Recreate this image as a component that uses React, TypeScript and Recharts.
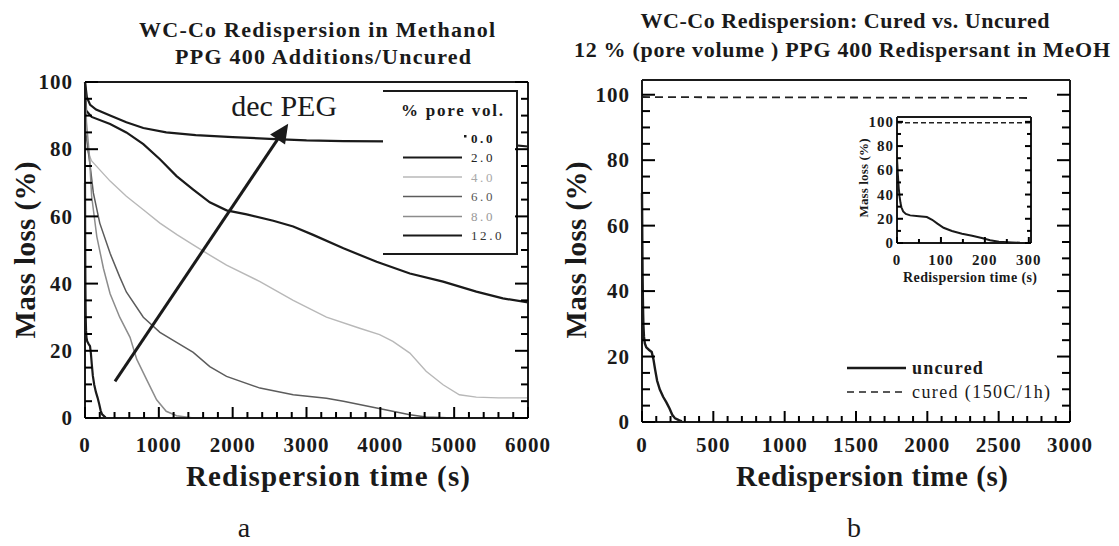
import { Line, LineChart, ReferenceLine, XAxis, YAxis } from 'recharts';

const SERIF = "'Liberation Serif', 'Times New Roman', serif";
const INK = '#1a1a1a';

// Panel a: PPG 400 additions, uncured (time in s, mass loss in %), one pair per pore-volume fraction
const PV0_TIME = [0, 25, 70, 150, 340, 560, 790, 1100, 1500, 2000, 2500, 3000, 3500, 4100, 4700, 5300, 5800, 6000];
const PV0_LOSS = [100, 95.5, 93.2, 91.8, 90, 88, 86.3, 85, 84.2, 83.6, 83.1, 82.6, 82.4, 82.3, 82.1, 81.7, 81.2, 80.8];

const PV2_TIME = [0, 15, 90, 340, 560, 790, 1015, 1240, 1466, 1690, 1917, 2190, 2550, 2820, 3090, 3500, 3950, 4400, 4850, 5300, 5660, 6000];
const PV2_LOSS = [100, 91.5, 89.6, 87.5, 85, 81.5, 77, 72, 68, 64.2, 61.8, 60.6, 58.7, 57, 54.5, 50.5, 46.5, 43, 40.6, 37.6, 35.6, 34.4];

const PV4_TIME = [0, 5, 90, 340, 560, 790, 1015, 1250, 1466, 1690, 1917, 2370, 2820, 3270, 3720, 3990, 4170, 4400, 4620, 4850, 5070, 5300, 5600, 6000];
const PV4_LOSS = [100, 81, 76.5, 70.5, 66, 62, 58, 54.5, 51.5, 48.5, 45.5, 40.6, 35, 30, 26.7, 24.8, 22.8, 19.3, 13.9, 9.9, 6.9, 6.2, 6, 6];

const PV6_TIME = [0, 10, 70, 113, 200, 340, 470, 560, 790, 1015, 1240, 1466, 1690, 1917, 2370, 2820, 3270, 3500, 3950, 4400, 4620, 5000];
const PV6_LOSS = [100, 85, 75, 67, 58, 49, 42, 37.5, 30, 25.5, 22.5, 19.5, 15.3, 12.4, 8.9, 6.9, 5.9, 5, 3, 1, 0.3, 0];

const PV8_TIME = [0, 20, 60, 90, 160, 250, 340, 470, 610, 700, 835, 970, 1100, 1240, 1470];
const PV8_LOSS = [100, 88, 78, 66, 54, 44.5, 37, 30, 24, 17.5, 11.4, 5.4, 2, 0.7, 0];

// 12 % pore volume, uncured (also the 12.0 curve of panel a) and cured at 150C for 1 h
const UNCURED_TIME = [0, 2, 4, 6, 8, 10, 14, 20, 30, 50, 68, 80, 92, 106, 125, 148, 171, 193, 212, 232, 262, 280];
const UNCURED_LOSS = [70, 56, 45, 38, 33, 29.5, 26, 24, 22.8, 22, 21.4, 19.2, 16, 12.6, 9.9, 7.7, 6, 4.1, 2.2, 1.1, 0.5, 0.2];
const CURED_TIME = [0, 600, 1200, 1800, 2400, 2715];
const CURED_LOSS = [99.3, 99.2, 99.2, 99.1, 99.1, 99.0];

const PV_LABELS = ['0.0', '2.0', '4.0', '6.0', '8.0', '12.0'];

// labelled (major) tick values
const A_X_LABELS = [0, 1000, 2000, 3000, 4000, 5000, 6000];
const B_X_LABELS = [0, 500, 1000, 1500, 2000, 2500, 3000];
const Y_LABELS = [0, 20, 40, 60, 80, 100];
const INSET_X_LABELS = [0, 100, 200, 300];

const range = (from: number, to: number, step: number) =>
  Array.from({ length: Math.floor((to - from) / step) + 1 }, (_, i) => from + i * step);

const pts = (time: number[], loss: number[]) => time.map((t, i) => ({ t, loss: loss[i] }));

const A_SERIES = [
  { name: PV_LABELS[0], data: pts(PV0_TIME, PV0_LOSS), color: INK, width: 2.2 },
  { name: PV_LABELS[1], data: pts(PV2_TIME, PV2_LOSS), color: INK, width: 2.2 },
  { name: PV_LABELS[2], data: pts(PV4_TIME, PV4_LOSS), color: '#b8b8b8', width: 1.4 },
  { name: PV_LABELS[3], data: pts(PV6_TIME, PV6_LOSS), color: '#5c5c5c', width: 1.5 },
  { name: PV_LABELS[4], data: pts(PV8_TIME, PV8_LOSS), color: '#8c8c8c', width: 1.5 },
  { name: PV_LABELS[5], data: pts(UNCURED_TIME, UNCURED_LOSS), color: INK, width: 2.2 },
];
const LEGEND_TEXT = [INK, '#222', '#a8a8a8', '#555', '#999', '#333'];

const uncured = pts(UNCURED_TIME, UNCURED_LOSS);
const cured = pts(CURED_TIME, CURED_LOSS);

// plot boxes (page pixels) that follow from the chart sizes and margins below
const A_BOX = { left: 85, right: 528, top: 82, bottom: 418, x: [0, 6000], y: [0, 100] };
const B_BOX = { left: 642, right: 1070, top: 80, bottom: 422, x: [0, 3000], y: [0, 104.5] };
const INSET_BOX = { left: 897, right: 1031, top: 117, bottom: 243, x: [0, 305], y: [0, 104] };

// tick labels only; the inward tick marks are drawn by FrameTicks
function tickLabel(side: 'left' | 'bottom', fontSize: number, gap: number) {
  return function Label(props: any) {
    const { x, y, payload } = props;
    const txt = { fontFamily: SERIF, fontWeight: 700, fontSize, fill: INK, letterSpacing: 1 };
    if (side === 'left') {
      return (
        <text x={x - gap} y={y} dy="0.34em" textAnchor="end" {...txt}>
          {payload.value}
        </text>
      );
    }
    return (
      <text x={x} y={y + gap} textAnchor="middle" {...txt}>
        {payload.value}
      </text>
    );
  };
}

function DecArrow(props: any) {
  const { x1, y1, x2, y2 } = props;
  const ang = Math.atan2(y2 - y1, x2 - x1);
  const headLen = 19;
  const halfW = 9;
  const bx = x2 - headLen * Math.cos(ang);
  const by = y2 - headLen * Math.sin(ang);
  const px = -Math.sin(ang) * halfW;
  const py = Math.cos(ang) * halfW;
  return (
    <g>
      <line x1={x1} y1={y1} x2={bx} y2={by} stroke={INK} strokeWidth={3} />
      <polygon points={`${x2},${y2} ${bx + px},${by + py} ${bx - px},${by - py}`} fill={INK} />
      <text x={x2 - 4} y={y2 - 8} textAnchor="middle" fontFamily={SERIF} fontSize={30} fill={INK}>
        dec PEG
      </text>
    </g>
  );
}

const frame = { stroke: INK, strokeWidth: 2 };
const bare = { tickSize: 0, tickMargin: 0, tickLine: false, interval: 0 as const };

function PanelA() {
  return (
    <LineChart width={560} height={546} margin={{ top: 82, right: 31, bottom: 98, left: 25 }}>
      <XAxis type="number" dataKey="t" domain={A_BOX.x} ticks={A_X_LABELS} height={30} axisLine={frame} tick={tickLabel('bottom', 21, 34)} {...bare} />
      <YAxis type="number" domain={A_BOX.y} ticks={Y_LABELS} width={60} axisLine={frame} tick={tickLabel('left', 21, 12)} {...bare} />
      <YAxis yAxisId="r" orientation="right" type="number" domain={A_BOX.y} allowDataOverflow width={1} axisLine={frame} tick={false} {...bare} />
      <ReferenceLine y={100} stroke={INK} strokeWidth={2} />
      {A_SERIES.map((s) => (
        <Line key={s.name} data={s.data} dataKey="loss" type="linear" stroke={s.color} strokeWidth={s.width} dot={false} isAnimationActive={false} />
      ))}
      <ReferenceLine
        segment={[
          { x: 406, y: 10.9 },
          { x: 2752, y: 87.6 },
        ]}
        shape={DecArrow}
      />
    </LineChart>
  );
}

function PanelB() {
  return (
    <LineChart width={559} height={546} margin={{ top: 80, right: 48, bottom: 94, left: 22 }}>
      <XAxis type="number" dataKey="t" domain={B_BOX.x} ticks={B_X_LABELS} height={30} axisLine={frame} tick={tickLabel('bottom', 21, 30)} {...bare} />
      <YAxis type="number" domain={B_BOX.y} allowDataOverflow ticks={Y_LABELS} width={60} axisLine={frame} tick={tickLabel('left', 21, 12)} {...bare} />
      <YAxis yAxisId="r" orientation="right" type="number" domain={B_BOX.y} allowDataOverflow width={1} axisLine={frame} tick={false} {...bare} />
      <ReferenceLine y={104.5} stroke={INK} strokeWidth={2} />
      <Line data={cured} dataKey="loss" stroke="#222" strokeWidth={1.8} strokeDasharray="8 5" dot={false} isAnimationActive={false} />
      <Line data={uncured} dataKey="loss" stroke={INK} strokeWidth={2.4} dot={false} isAnimationActive={false} />
    </LineChart>
  );
}

function Inset() {
  return (
    <LineChart width={200} height={200} margin={{ top: 17, right: 18, bottom: 37, left: 17 }}>
      <XAxis type="number" dataKey="t" domain={INSET_BOX.x} allowDataOverflow ticks={INSET_X_LABELS} height={20} axisLine={frame} tick={tickLabel('bottom', 15, 22)} {...bare} />
      <YAxis type="number" domain={INSET_BOX.y} allowDataOverflow ticks={Y_LABELS} width={30} axisLine={frame} tick={tickLabel('left', 15, 3)} {...bare} />
      <YAxis yAxisId="r" orientation="right" type="number" domain={INSET_BOX.y} allowDataOverflow width={1} axisLine={frame} tick={false} {...bare} />
      <ReferenceLine y={104} stroke={INK} strokeWidth={2} />
      <Line data={cured} dataKey="loss" stroke="#222" strokeWidth={1.5} strokeDasharray="5 3" dot={false} isAnimationActive={false} />
      <Line data={uncured} dataKey="loss" stroke={INK} strokeWidth={2} dot={false} isAnimationActive={false} />
    </LineChart>
  );
}

type Box = typeof A_BOX;
type TickLens = { xMaj: number; xMin: number; yMaj: number; yMin: number };

// inward tick marks on the left, right and bottom frame of a plot box
function FrameTicks({ box, xTicks, xMajors, yTicks, yMajors, len }: { box: Box; xTicks: number[]; xMajors: number[]; yTicks: number[]; yMajors: number[]; len: TickLens }) {
  const sx = (v: number) => box.left + ((v - box.x[0]) / (box.x[1] - box.x[0])) * (box.right - box.left);
  const sy = (v: number) => box.bottom - ((v - box.y[0]) / (box.y[1] - box.y[0])) * (box.bottom - box.top);
  return (
    <g stroke="#000" strokeWidth={2}>
      {yTicks.map((v) => {
        const y = sy(v);
        const l = yMajors.includes(v) ? len.yMaj : len.yMin;
        return (
          <g key={`y${v}`}>
            <line x1={box.left} y1={y} x2={box.left + l} y2={y} />
            <line x1={box.right - l} y1={y} x2={box.right} y2={y} />
          </g>
        );
      })}
      {xTicks.map((v) => {
        const x = sx(v);
        const l = xMajors.includes(v) ? len.xMaj : len.xMin;
        return <line key={`x${v}`} x1={x} y1={box.bottom} x2={x} y2={box.bottom - l} />;
      })}
    </g>
  );
}

const bold = { fontFamily: SERIF, fontWeight: 700, fill: INK };
const plain = { fontFamily: SERIF, fill: INK };
const LEGEND_ROWS = [138, 157.5, 177, 196.5, 216.5, 235.5];

function Annotations() {
  return (
    <svg width={1119} height={546} style={{ position: 'absolute', left: 0, top: 0, pointerEvents: 'none' }}>
      {/* titles */}
      <text x={317} y={37} textAnchor="middle" fontSize={22} textLength={356} lengthAdjust="spacing" {...bold}>
        WC-Co Redispersion in Methanol
      </text>
      <text x={323} y={64} textAnchor="middle" fontSize={22} textLength={296} lengthAdjust="spacing" {...bold}>
        PPG 400 Additions/Uncured
      </text>
      <text x={845} y={28} textAnchor="middle" fontSize={22} textLength={409} lengthAdjust="spacing" {...bold}>
        WC-Co Redispersion: Cured vs. Uncured
      </text>
      <text x={842} y={57} textAnchor="middle" fontSize={22} textLength={536} lengthAdjust="spacing" {...bold}>
        12 % (pore volume ) PPG 400 Redispersant in MeOH
      </text>

      {/* axis titles */}
      <text x={328} y={486} textAnchor="middle" fontSize={29} textLength={284} lengthAdjust="spacing" {...bold}>
        Redispersion time (s)
      </text>
      <text x={872} y={486} textAnchor="middle" fontSize={29} textLength={272} lengthAdjust="spacing" {...bold}>
        Redispersion time (s)
      </text>
      <text transform="translate(35,250) rotate(-90)" textAnchor="middle" fontSize={29} textLength={177} lengthAdjust="spacing" {...bold}>
        Mass loss (%)
      </text>
      <text transform="translate(586,250) rotate(-90)" textAnchor="middle" fontSize={29} textLength={177} lengthAdjust="spacing" {...bold}>
        Mass loss (%)
      </text>

      {/* inset axis titles */}
      <text x={970} y={282} textAnchor="middle" fontSize={14} textLength={134} lengthAdjust="spacing" {...bold}>
        Redispersion time (s)
      </text>
      <text transform="translate(867.5,178) rotate(-90)" textAnchor="middle" fontSize={13} textLength={79} lengthAdjust="spacing" {...bold}>
        Mass loss (%)
      </text>

      {/* panel a legend box */}
      <rect x={383} y={91} width={134} height={163} fill="#fff" />
      <line x1={383} y1={91} x2={518} y2={91} stroke={INK} strokeWidth={2} />
      <line x1={517} y1={91} x2={517} y2={254} stroke={INK} strokeWidth={2} />
      <line x1={383} y1={254} x2={518} y2={254} stroke={INK} strokeWidth={2} />
      <text x={452} y={116} textAnchor="middle" fontSize={17} textLength={102} lengthAdjust="spacing" {...bold}>
        % pore vol.
      </text>
      {PV_LABELS.map((lab, i) => {
        const s = A_SERIES[i];
        const y = LEGEND_ROWS[i];
        return (
          <g key={lab}>
            {i === 0 ? (
              <rect x={464} y={y - 3} width={2.5} height={2.5} fill={INK} />
            ) : (
              <line x1={403} y1={y} x2={462} y2={y} stroke={s.color} strokeWidth={s.width} />
            )}
            <text x={471} y={y + 4.5} fontSize={13} letterSpacing={2.6} fontWeight={i === 0 ? 700 : 400} fontFamily={SERIF} fill={LEGEND_TEXT[i]}>
              {lab}
            </text>
          </g>
        );
      })}

      {/* inward frame ticks */}
      <FrameTicks box={A_BOX} xTicks={range(0, 6000, 200)} xMajors={A_X_LABELS} yTicks={range(0, 100, 5)} yMajors={Y_LABELS} len={{ xMaj: 11, xMin: 6, yMaj: 13, yMin: 7 }} />
      <FrameTicks box={B_BOX} xTicks={range(0, 3000, 100)} xMajors={B_X_LABELS} yTicks={range(0, 100, 5)} yMajors={Y_LABELS} len={{ xMaj: 11, xMin: 6, yMaj: 13, yMin: 8 }} />
      <FrameTicks box={INSET_BOX} xTicks={range(0, 300, 50)} xMajors={INSET_X_LABELS} yTicks={range(0, 100, 10)} yMajors={Y_LABELS} len={{ xMaj: 6, xMin: 4, yMaj: 6, yMin: 4 }} />

      {/* panel b legend */}
      <line x1={847} y1={368} x2={906} y2={368} stroke={INK} strokeWidth={2.5} />
      <text x={912} y={374} fontSize={18} letterSpacing={1.2} {...bold}>
        uncured
      </text>
      <line x1={847} y1={392} x2={906} y2={392} stroke="#222" strokeWidth={1.6} strokeDasharray="7 5" />
      <text x={912} y={398} fontSize={18} letterSpacing={1.4} {...plain}>
        cured (150C/1h)
      </text>

      {/* panel letters */}
      <text x={244} y={537} textAnchor="middle" fontSize={28} {...plain}>
        a
      </text>
      <text x={854} y={537} textAnchor="middle" fontSize={28} {...plain}>
        b
      </text>
    </svg>
  );
}

export default function App() {
  return (
    <div style={{ position: 'absolute', left: 0, top: 0, width: 1119, height: 546, background: '#fff', overflow: 'hidden' }}>
      <div style={{ position: 'absolute', left: 0, top: 0 }}>
        <PanelA />
      </div>
      <div style={{ position: 'absolute', left: 560, top: 0 }}>
        <PanelB />
      </div>
      <div style={{ position: 'absolute', left: 850, top: 100 }}>
        <Inset />
      </div>
      <Annotations />
    </div>
  );
}
